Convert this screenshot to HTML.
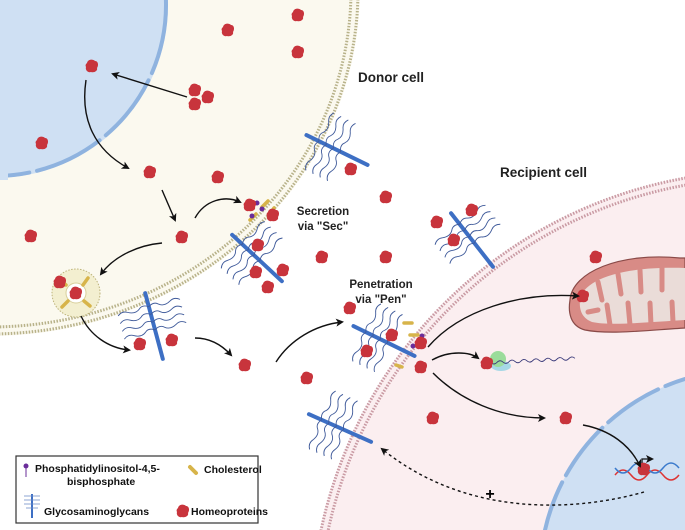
<!DOCTYPE html>
<html><head><meta charset="utf-8"><style>
html,body{margin:0;padding:0;background:#fff;width:685px;height:530px;overflow:hidden}
svg{display:block;overflow:hidden;font-family:"Liberation Sans",sans-serif}
</style></head><body>
<svg width="685" height="530" viewBox="0 0 685 530" xmlns="http://www.w3.org/2000/svg">
<defs>
<g id="hp"><path d="M-5,-3 C-4,-7 1,-7 3,-5 C6,-5 7,-1 5,2 C6,5 2,7 -1,6 C-4,7 -7,4 -6,1 C-7,-1 -6,-2 -5,-3Z" fill="#c8343c"/></g>
<marker id="ah" markerWidth="8" markerHeight="8" refX="6" refY="4" orient="auto" markerUnits="userSpaceOnUse"><path d="M0,0 L8,4 L0,8 L2,4Z" fill="#111"/></marker>
<g id="gag">
<line x1="-34" y1="0" x2="34" y2="0" stroke="#3d6fc4" stroke-width="4" stroke-linecap="round"/>
<g fill="none" stroke="#3f5a9a" stroke-width="0.9">
<path d="M-20,0 q-4,-6 0,-10 q4,-5 0,-12 q-3,-5 1,-10"/>
<path d="M-12,0 q-4,-6 0,-10 q4,-5 0,-12 q-3,-5 1,-10"/>
<path d="M-4,0 q-4,-6 0,-10 q4,-5 0,-12 q-3,-5 1,-10"/>
<path d="M4,0 q-4,-6 0,-10 q4,-5 0,-12 q-3,-5 1,-10"/>
<path d="M-20,0 q-4,6 0,10 q4,5 0,12 q-3,5 1,10"/>
<path d="M-12,0 q-4,6 0,10 q4,5 0,12 q-3,5 1,10"/>
<path d="M-4,0 q-4,6 0,10 q4,5 0,12 q-3,5 1,10"/>
<path d="M4,0 q-4,6 0,10 q4,5 0,12 q-3,5 1,10"/>
</g></g>
</defs>
<rect width="685" height="530" fill="#fff"/>
<!-- recipient cell -->
<circle cx="765" cy="625" r="455" fill="#fbeef0"/>
<circle cx="765" cy="625" r="454" fill="none" stroke="#c99aa3" stroke-width="3" stroke-dasharray="1.5 1.5"/>
<circle cx="765" cy="625" r="447" fill="none" stroke="#c99aa3" stroke-width="3" stroke-dasharray="1.5 1.5"/>
<!-- recipient nucleus -->
<circle cx="745" cy="575" r="205" fill="#cfe0f3"/>
<circle cx="745" cy="575" r="205" fill="none" stroke="#8fb3df" stroke-width="4" stroke-dasharray="60 8" stroke-linecap="round"/>
<!-- donor cell -->
<ellipse cx="-10" cy="-10" rx="370" ry="346" fill="#fbf9ef"/>
<ellipse cx="-10" cy="-10" rx="368" ry="344" fill="none" stroke="#b8b28a" stroke-width="3" stroke-dasharray="1.5 1.5"/>
<ellipse cx="-10" cy="-10" rx="361" ry="337" fill="none" stroke="#b8b28a" stroke-width="3" stroke-dasharray="1.5 1.5"/>
<!-- donor nucleus -->
<circle cx="-5" cy="5" r="173" fill="#cfe0f3"/>
<circle cx="-5" cy="5" r="171" fill="none" stroke="#8fb3df" stroke-width="4" stroke-dasharray="70 8" stroke-linecap="round"/>
<rect x="0" y="0" width="8" height="180" fill="#cfe0f3"/>
<!-- vesicle -->
<circle cx="76" cy="293" r="24" fill="#f3efd0" stroke="#bdb37a" stroke-dasharray="1.5 1.5"/>
<circle cx="76" cy="293" r="10" fill="#fff" stroke="#d8cf9a"/>
<g stroke="#d7b44a" stroke-width="3.5" stroke-linecap="round"><line x1="60" y1="280" x2="66" y2="285"/><line x1="88" y1="278" x2="83" y2="285"/><line x1="62" y1="307" x2="68" y2="301"/><line x1="90" y1="306" x2="84" y2="301"/></g>
<use href="#hp" x="76" y="293"/><use href="#hp" x="60" y="282"/>
<!-- mitochondrion -->
<path d="M570,300 C572,272 620,252 680,258 L685,258 L685,328 C650,330 610,335 585,330 C570,326 568,312 570,300Z" fill="#d88b86" stroke="#8a4a48" stroke-width="1.2"/>
<path d="M580,300 C583,280 620,266 685,268 L685,320 C650,322 610,326 592,322 C582,318 579,310 580,300Z" fill="#eadcd8"/>
<g stroke="#d88b86" stroke-width="5" stroke-linecap="round">
<line x1="598" y1="282" x2="602" y2="300"/><line x1="610" y1="325" x2="607" y2="305"/><line x1="618" y1="274" x2="621" y2="294"/><line x1="630" y1="325" x2="628" y2="303"/><line x1="640" y1="270" x2="641" y2="292"/><line x1="651" y1="325" x2="650" y2="303"/><line x1="662" y1="268" x2="662" y2="290"/><line x1="673" y1="322" x2="672" y2="302"/><line x1="588" y1="312" x2="598" y2="310"/></g>
<!-- GAGs -->
<use href="#gag" transform="translate(337,150) rotate(26)"/>
<use href="#gag" transform="translate(257,258) rotate(43)"/>
<use href="#gag" transform="translate(154,326) rotate(75)"/>
<use href="#gag" transform="translate(384,341) rotate(26)"/>
<use href="#gag" transform="translate(472,240) rotate(52)"/>
<use href="#gag" transform="translate(340,428) rotate(24)"/>
<!-- PIP2 / cholesterol at membranes -->
<g stroke="#d7b44a" stroke-width="3.5" stroke-linecap="round">
<line x1="250" y1="220" x2="256" y2="214"/><line x1="262" y1="207" x2="268" y2="201"/><line x1="270" y1="214" x2="274" y2="208"/>
<line x1="404" y1="323" x2="412" y2="323"/><line x1="410" y1="335" x2="418" y2="335"/><line x1="396" y1="365" x2="402" y2="367"/></g>
<g fill="#6a2d9a"><circle cx="257" cy="203" r="2.5"/><circle cx="262" cy="209" r="2.5"/><circle cx="252" cy="216" r="2.5"/><circle cx="422" cy="336" r="2.5"/><circle cx="413" cy="346" r="2.5"/></g>
<!-- ribosome/mRNA -->
<ellipse cx="501" cy="366" rx="10" ry="5" fill="#a6d8e6"/>
<circle cx="498" cy="359" r="8" fill="#9bdc9b"/>
<path d="M485,363 q3,-3 6,0 t6,0 t6,0 t6,0 t6,0 t6,0 t6,0 t6,0 t6,0 t6,0 t6,0 t6,0 t6,0 t6,0 t6,0" fill="none" stroke="#3a3a7a" stroke-width="0.9" transform="rotate(-3 485 363)"/>
<!-- DNA -->
<path d="M615,475 q8,-10 16,0 t16,0 t16,0 t16,0" fill="none" stroke="#d33" stroke-width="1.5"/>
<path d="M615,468 q8,10 16,0 t16,0 t16,0 t16,0" fill="none" stroke="#3a7acc" stroke-width="1.5"/>
<path d="M642,465 v-6 h10" fill="none" stroke="#111" stroke-width="1.3" marker-end="url(#ah)"/>
<!-- proteins -->
<g>
<use href="#hp" x="298" y="15"/><use href="#hp" x="228" y="30"/><use href="#hp" x="298" y="52"/><use href="#hp" x="92" y="66"/>
<use href="#hp" x="195" y="90"/><use href="#hp" x="208" y="97"/><use href="#hp" x="195" y="104"/><use href="#hp" x="42" y="143"/>
<use href="#hp" x="150" y="172"/><use href="#hp" x="218" y="177"/><use href="#hp" x="182" y="237"/><use href="#hp" x="31" y="236"/>
<use href="#hp" x="351" y="169"/><use href="#hp" x="386" y="197"/><use href="#hp" x="322" y="257"/><use href="#hp" x="386" y="257"/>
<use href="#hp" x="250" y="205"/><use href="#hp" x="273" y="215"/><use href="#hp" x="258" y="245"/><use href="#hp" x="256" y="272"/><use href="#hp" x="283" y="270"/><use href="#hp" x="268" y="287"/>
<use href="#hp" x="140" y="344"/><use href="#hp" x="172" y="340"/><use href="#hp" x="245" y="365"/><use href="#hp" x="350" y="308"/>
<use href="#hp" x="367" y="351"/><use href="#hp" x="392" y="335"/><use href="#hp" x="421" y="343"/><use href="#hp" x="421" y="367"/>
<use href="#hp" x="307" y="378"/><use href="#hp" x="433" y="418"/><use href="#hp" x="437" y="222"/><use href="#hp" x="472" y="210"/><use href="#hp" x="454" y="240"/>
<use href="#hp" x="596" y="257"/><use href="#hp" x="583" y="296"/><use href="#hp" x="487" y="363"/><use href="#hp" x="566" y="418"/><use href="#hp" x="644" y="469"/>
</g>
<!-- arrows -->
<g fill="none" stroke="#111" stroke-width="1.4" marker-end="url(#ah)">
<path d="M187,97 L113,74"/>
<path d="M86,80 C80,120 95,150 128,168"/>
<path d="M162,190 L175,220"/>
<path d="M195,218 C205,200 225,195 240,202"/>
<path d="M162,243 C140,245 115,255 101,274"/>
<path d="M81,316 C90,335 108,348 129,350"/>
<path d="M195,338 C208,338 220,343 231,355"/>
<path d="M276,362 C290,340 315,325 342,322"/>
<path d="M428,347 C460,310 520,292 578,296"/>
<path d="M432,360 C450,350 470,352 478,358"/>
<path d="M433,373 C460,400 500,418 544,418"/>
<path d="M583,425 C610,430 630,445 640,466"/>
<path d="M644,492 C580,510 470,520 382,449" stroke-dasharray="3 3"/>
</g>
<text x="490" y="499" font-size="16" font-weight="bold" text-anchor="middle">+</text>
<!-- labels -->
<g font-weight="bold" fill="#222">
<text x="358" y="82" font-size="13.5">Donor cell</text>
<text x="500" y="177" font-size="13.5">Recipient cell</text>
<text x="323" y="215" font-size="11.5" text-anchor="middle">Secretion</text>
<text x="323" y="230" font-size="11.5" text-anchor="middle">via "Sec"</text>
<text x="381" y="288" font-size="11.5" text-anchor="middle">Penetration</text>
<text x="381" y="303" font-size="11.5" text-anchor="middle">via "Pen"</text>
</g>
<!-- legend -->
<rect x="16" y="456" width="242" height="67" fill="#fff" stroke="#333" stroke-width="1.2"/>
<g font-size="10.5" font-weight="bold" fill="#111">
<text x="35" y="472">Phosphatidylinositol-4,5-</text>
<text x="67" y="485">bisphosphate</text>
<text x="204" y="473">Cholesterol</text>
<text x="44" y="515">Glycosaminoglycans</text>
<text x="191" y="515">Homeoproteins</text>
</g>
<circle cx="26" cy="466" r="2.5" fill="#6a2d9a"/><line x1="26" y1="468" x2="26" y2="477" stroke="#6a2d9a" stroke-width="1"/>
<line x1="190" y1="467" x2="196" y2="473" stroke="#d7b44a" stroke-width="4" stroke-linecap="round"/>
<line x1="32" y1="494" x2="32" y2="518" stroke="#3d6fc4" stroke-width="2"/>
<g stroke="#6f8fc8" stroke-width="0.8"><line x1="24" y1="496" x2="40" y2="496"/><line x1="24" y1="500" x2="40" y2="500"/><line x1="24" y1="504" x2="40" y2="504"/><line x1="26" y1="508" x2="38" y2="508"/></g>
<use href="#hp" x="183" y="511"/>
</svg>
</body></html>
